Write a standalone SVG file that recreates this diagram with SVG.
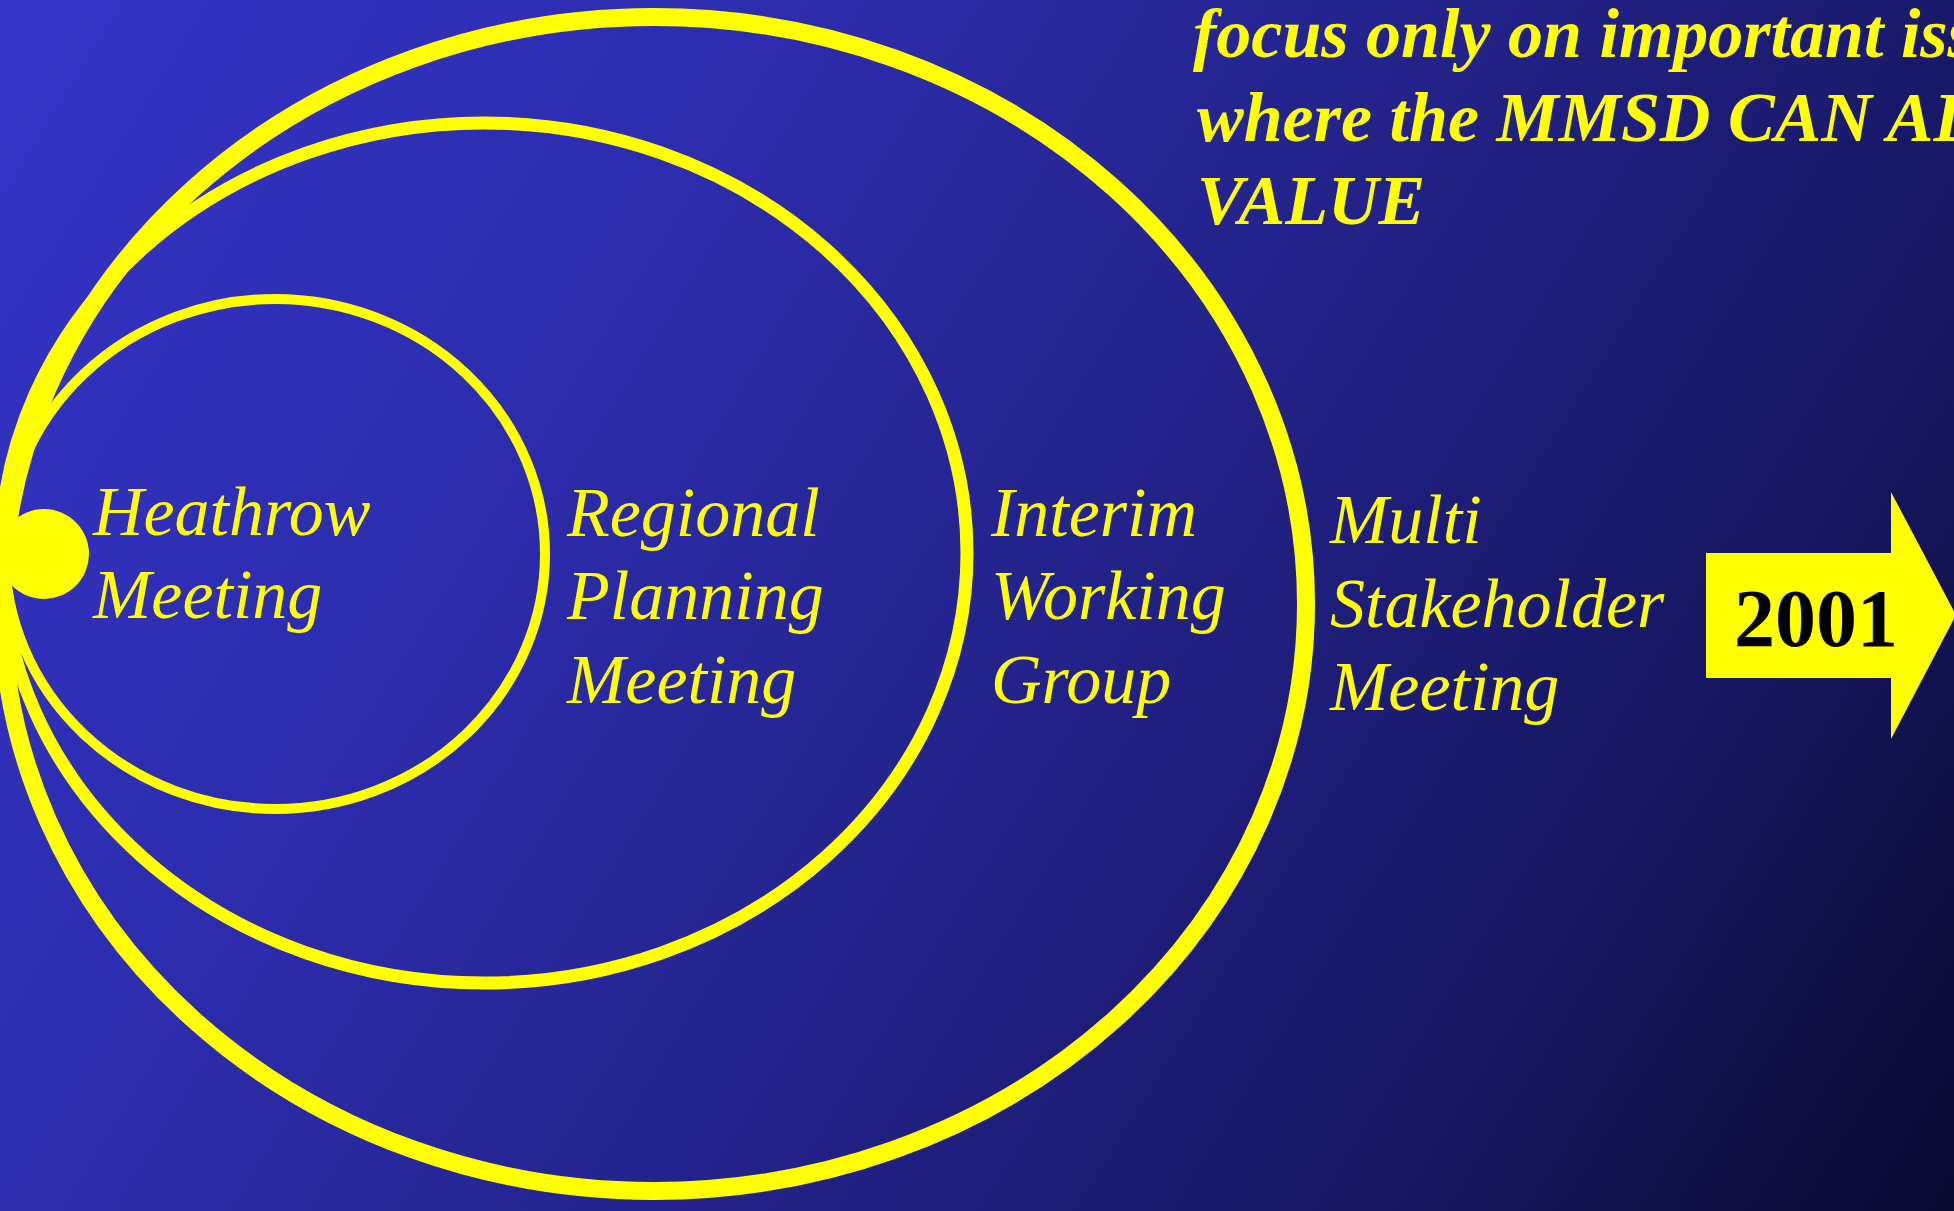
<svg xmlns="http://www.w3.org/2000/svg" width="1954" height="1211" viewBox="0 0 1954 1211">
<defs>
<linearGradient id="bg" gradientUnits="userSpaceOnUse" x1="0" y1="0" x2="1954" y2="1211">
<stop offset="0" stop-color="#3434C8"/>
<stop offset="0.3" stop-color="#2C2CAC"/>
<stop offset="0.55" stop-color="#222288"/>
<stop offset="0.8" stop-color="#161660"/>
<stop offset="1" stop-color="#0A0A30"/>
</linearGradient>
<style>
.ring{fill:none;stroke:#FFFF00}
.lbl{font-family:"Liberation Serif","Times New Roman",serif;font-style:italic;font-size:70px;fill:#FFFF00}
.head{font-family:"Liberation Serif","Times New Roman",serif;font-style:italic;font-weight:bold;font-size:70px;fill:#FFFF00}
.year{font-family:"Liberation Serif","Times New Roman",serif;font-weight:bold;font-size:82px;fill:#000000}
</style>
</defs>
<rect x="0" y="0" width="1954" height="1211" fill="url(#bg)"/>
<g id="connectors"></g>
<g id="multi-stakeholder">
<ellipse class="ring" cx="654" cy="604" rx="652" ry="587" stroke-width="18"/>
<text class="lbl" x="1330" y="543">Multi</text>
<text class="lbl" x="1330" y="627">Stakeholder</text>
<text class="lbl" x="1330" y="710">Meeting</text>
</g>
<g id="interim">
<ellipse class="ring" cx="484" cy="553" rx="483" ry="430" stroke-width="13"/>
<text class="lbl" x="991" y="536">Interim</text>
<text class="lbl" x="991" y="619">Working</text>
<text class="lbl" x="991" y="703">Group</text>
</g>
<g id="regional">
<ellipse class="ring" cx="275" cy="554" rx="270" ry="255" stroke-width="10"/>
<text class="lbl" x="567" y="536">Regional</text>
<text class="lbl" x="567" y="619">Planning</text>
<text class="lbl" x="567" y="703">Meeting</text>
</g>
<g id="heathrow">
<circle cx="44" cy="554" r="45" fill="#FFFF00"/>
<text class="lbl" x="93" y="535">Heathrow</text>
<text class="lbl" x="93" y="618">Meeting</text>
</g>
<g id="note">
<text class="head" x="1193" y="57">focus only on important issues</text>
<text class="head" x="1197" y="141">where the MMSD CAN ADD</text>
<text class="head" x="1197" y="224">VALUE</text>
</g>
<g id="year-arrow">
<path d="M1706 553 H1891 V492 L1956 615 L1891 739 V678 H1706 Z" fill="#FFFF00"/>
<text class="year" x="1816" y="646" text-anchor="middle">2001</text>
</g>
</svg>
